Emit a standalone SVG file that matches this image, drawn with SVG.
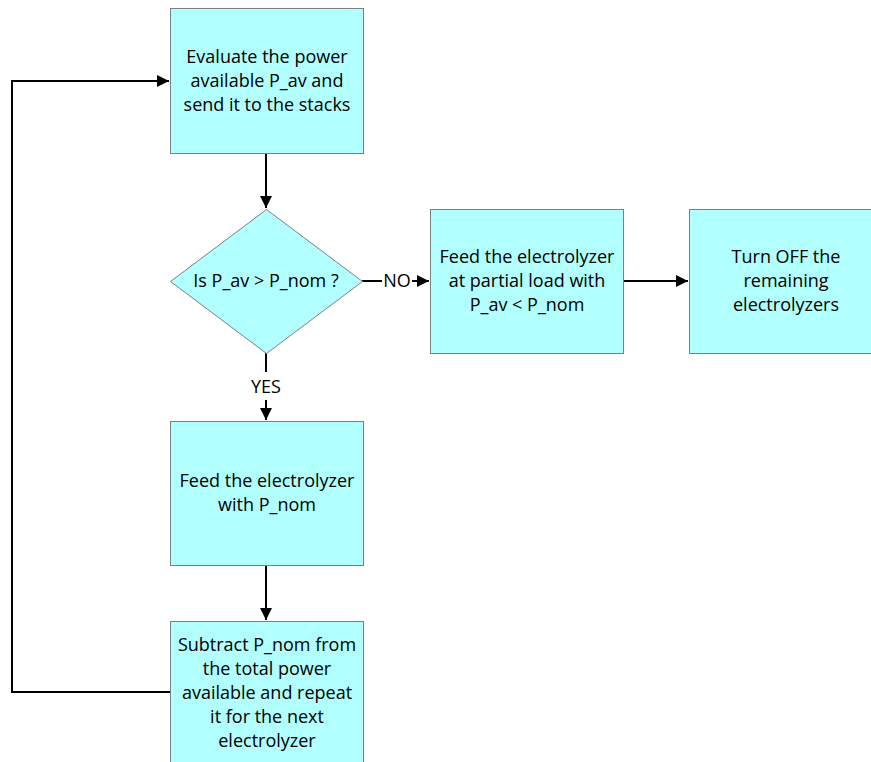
<svg xmlns="http://www.w3.org/2000/svg" width="871" height="762" viewBox="0 0 871 762">
  <style>
    .box { fill: #b1ffff; stroke: #7f7f7f; stroke-width: 1; }
    .lbl { font-family: "Open Sans", "Liberation Sans", sans-serif; font-size: 18px; fill: #000; text-anchor: middle; }
    .wire { fill: none; stroke: #000; stroke-width: 2; }
  </style>
  <defs>
    <marker id="arrow" viewBox="0 0 10 10" refX="10" refY="5" markerWidth="6" markerHeight="6" orient="auto" markerUnits="strokeWidth">
      <path d="M0,0 L10,5 L0,10 z" fill="#000"/>
    </marker>
  </defs>
  <rect width="871" height="762" fill="#fff"/>

  <g id="connectors">
    <line class="wire" x1="266" y1="153" x2="266" y2="208" marker-end="url(#arrow)"/>
    <line class="wire" x1="362" y1="281" x2="382" y2="281"/>
    <line class="wire" x1="412" y1="281" x2="429" y2="281" marker-end="url(#arrow)"/>
    <line class="wire" x1="266" y1="353" x2="266" y2="372"/>
    <line class="wire" x1="266" y1="400" x2="266" y2="420" marker-end="url(#arrow)"/>
    <line class="wire" x1="623" y1="281" x2="688" y2="281" marker-end="url(#arrow)"/>
    <line class="wire" x1="266" y1="565" x2="266" y2="620" marker-end="url(#arrow)"/>
    <polyline class="wire" points="170,692 12,692 12,81 169,81" marker-end="url(#arrow)"/>
    <text class="lbl" x="397" y="287">NO</text>
    <text class="lbl" x="266" y="393">YES</text>
  </g>

  <g id="evaluate">
    <rect class="box" x="170.5" y="8.5" width="193" height="145"/>
    <text class="lbl" x="267" y="63">Evaluate the power</text>
    <text class="lbl" x="267" y="87">available P_av and</text>
    <text class="lbl" x="267" y="111">send it to the stacks</text>
  </g>

  <g id="decision">
    <polygon class="box" points="266.5,209.5 362.5,281.5 266.5,353.5 170.5,281.5"/>
    <text class="lbl" x="266" y="287">Is P_av &gt; P_nom ?</text>
  </g>

  <g id="partial">
    <rect class="box" x="430.5" y="209.5" width="193" height="144"/>
    <text class="lbl" x="527" y="263">Feed the electrolyzer</text>
    <text class="lbl" x="527" y="287">at partial load with</text>
    <text class="lbl" x="527" y="311">P_av &lt; P_nom</text>
  </g>

  <g id="turn-off">
    <rect class="box" x="689.5" y="209.5" width="193" height="144"/>
    <text class="lbl" x="786" y="263">Turn OFF the</text>
    <text class="lbl" x="786" y="287">remaining</text>
    <text class="lbl" x="786" y="311">electrolyzers</text>
  </g>

  <g id="feed-nominal">
    <rect class="box" x="170.5" y="421.5" width="193" height="144"/>
    <text class="lbl" x="267" y="487">Feed the electrolyzer</text>
    <text class="lbl" x="267" y="511">with P_nom</text>
  </g>

  <g id="subtract">
    <rect class="box" x="170.5" y="621.5" width="193" height="150"/>
    <text class="lbl" x="267" y="651">Subtract P_nom from</text>
    <text class="lbl" x="267" y="675">the total power</text>
    <text class="lbl" x="267" y="699">available and repeat</text>
    <text class="lbl" x="267" y="723">it for the next</text>
    <text class="lbl" x="267" y="747">electrolyzer</text>
  </g>
</svg>
